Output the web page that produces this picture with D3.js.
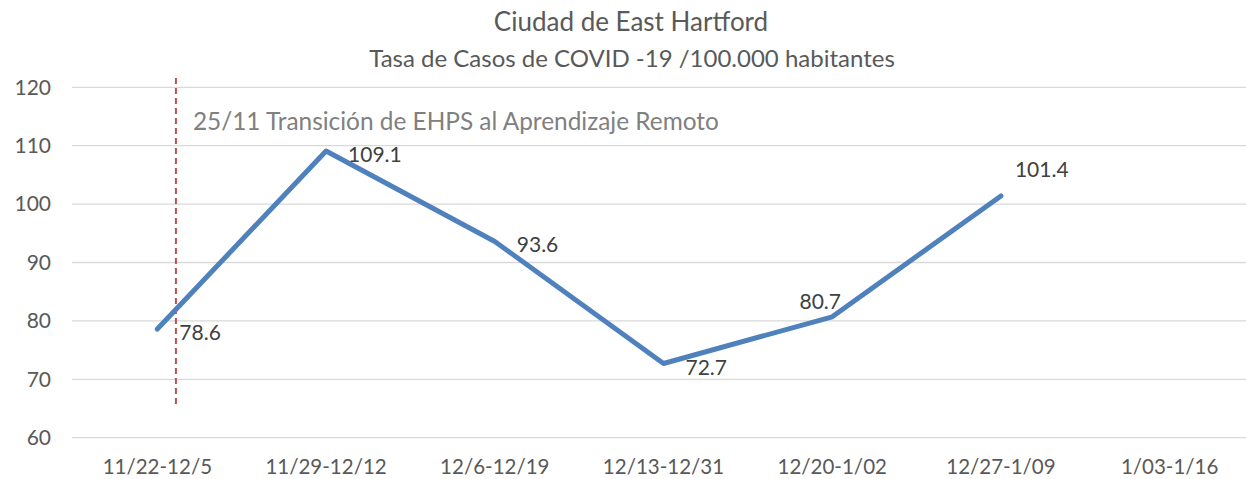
<!DOCTYPE html>
<html>
<head>
<meta charset="utf-8">
<script src="https://cdn.jsdelivr.net/npm/d3@7"></script>
<style>
  body { margin: 0; background: #fff; }
  text { font-family: Lato, "Noto Sans", sans-serif; }
</style>
</head>
<body>
<svg id="grafico" width="1246" height="479"></svg>
<script>
// Datos
let semanas = ["11/22-12/5", "11/29-12/12", "12/6-12/19", "12/13-12/31", "12/20-1/02", "12/27-1/09", "1/03-1/16"];
let tasas = [78.6, 109.1, 93.6, 72.7, 80.7, 101.4, null];
let ticksY = [60, 70, 80, 90, 100, 110, 120];
// posicion del rotulo de cada punto
let posRotulo = ["right", "right", "right", "right", "above", "aboveRight", "right"];
// linea vertical: 25/11, poco despues del inicio de la primera semana
let transicionPos = 0.11;
let transicionRango = [121.6, 65.7];
let transicionTexto = "25/11 Transición de EHPS al Aprendizaje Remoto";

let svg = d3.select("#grafico");
let izq = 73, der = 1254, arriba = 87.3, abajo = 437.7;

let fnX = d3.scaleBand().domain(semanas).range([izq, der]);
let fnXc = (i) => fnX(semanas[i]) + fnX.bandwidth() / 2;
let fnY = d3.scaleLinear().domain([60, 120]).range([abajo, arriba]);

// Titulos
svg.append("text")
  .attr("x", 631).attr("y", 31)
  .attr("text-anchor", "middle")
  .attr("font-size", 26)
  .attr("fill", "#595959")
  .text("Ciudad de East Hartford");
svg.append("text")
  .attr("x", 632).attr("y", 67)
  .attr("text-anchor", "middle")
  .attr("font-size", 24)
  .attr("fill", "#595959")
  .text("Tasa de Casos de COVID -19 /100.000 habitantes");

// Grilla
svg.selectAll(".grilla")
  .data(ticksY)
  .enter()
  .append("line")
  .classed("grilla", true)
  .attr("x1", izq - 1).attr("x2", der)
  .attr("y1", (d) => fnY(d)).attr("y2", (d) => fnY(d))
  .attr("stroke", "#d9d9d9")
  .attr("stroke-width", 1.3);

// Eje Y
let ejeY = svg.append("g")
  .attr("transform", `translate(${izq},0)`)
  .call(d3.axisLeft(fnY).tickValues(ticksY).tickSize(0).tickPadding(22));
ejeY.select(".domain").remove();
ejeY.selectAll("text")
  .attr("font-family", "Lato")
  .attr("font-size", 21)
  .attr("fill", "#595959");

// Eje X
let ejeX = svg.append("g")
  .attr("transform", `translate(0,${abajo})`)
  .call(d3.axisBottom(fnX).tickSize(0).tickPadding(22));
ejeX.select(".domain").remove();
ejeX.selectAll("text")
  .attr("font-family", "Lato")
  .attr("font-size", 20.5)
  .attr("fill", "#595959");

// Linea de transicion
let xTrans = fnXc(0) + transicionPos * fnX.step();
svg.append("line")
  .attr("x1", xTrans).attr("x2", xTrans)
  .attr("y1", fnY(transicionRango[0])).attr("y2", fnY(transicionRango[1]))
  .attr("stroke", "#c0504d")
  .attr("stroke-width", 2)
  .attr("stroke-dasharray", "6,4");
svg.append("text")
  .attr("x", xTrans + 17).attr("y", 130)
  .attr("font-size", 24.4)
  .attr("fill", "#808080")
  .text(transicionTexto);

// Serie
let puntos = tasas.map((v, i) => ({ v: v, i: i })).filter((d) => d.v !== null);
let linea = d3.line()
  .x((d) => fnXc(d.i))
  .y((d) => fnY(d.v));
svg.append("path")
  .datum(puntos)
  .attr("d", linea)
  .attr("fill", "none")
  .attr("stroke", "#4f81bd")
  .attr("stroke-width", 5)
  .attr("stroke-linejoin", "round")
  .attr("stroke-linecap", "round");

// Rotulos
svg.selectAll(".rotulo")
  .data(puntos)
  .enter()
  .append("text")
  .classed("rotulo", true)
  .attr("font-size", 21)
  .attr("fill", "#404040")
  .attr("x", (d) => {
    let p = posRotulo[d.i];
    if (p === "above") return fnXc(d.i) - 12;
    if (p === "aboveRight") return fnXc(d.i) + 14;
    return fnXc(d.i) + 22;
  })
  .attr("y", (d) => {
    let p = posRotulo[d.i];
    if (p === "above") return fnY(d.v) - 8;
    if (p === "aboveRight") return fnY(d.v) - 19;
    return fnY(d.v) + 11;
  })
  .attr("text-anchor", (d) => (posRotulo[d.i] === "above" ? "middle" : "start"))
  .text((d) => d.v.toFixed(1));
</script>
</body>
</html>
